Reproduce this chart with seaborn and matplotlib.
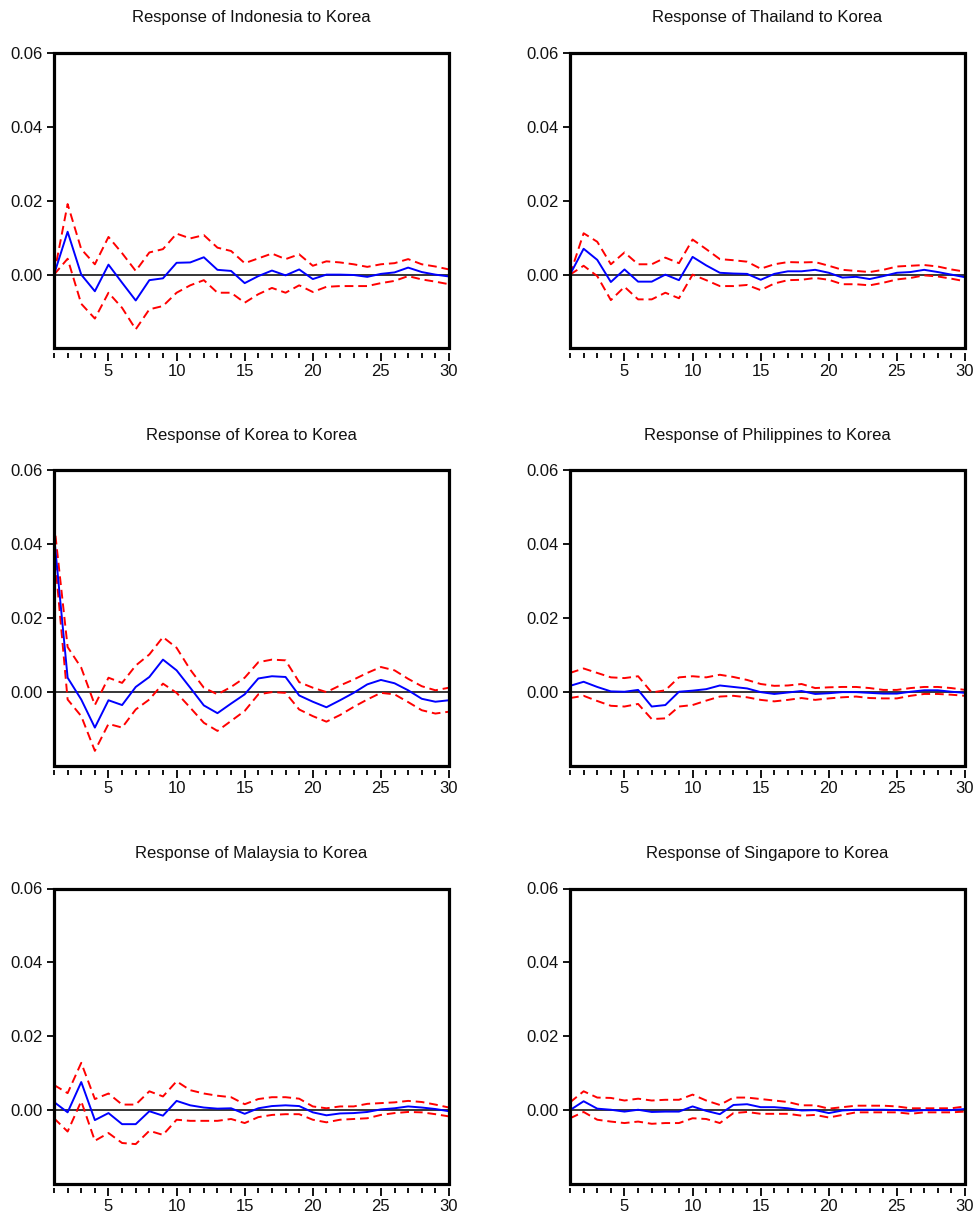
import matplotlib
matplotlib.use("Agg")
import matplotlib.pyplot as plt
from matplotlib.patches import Rectangle
from matplotlib.ticker import MultipleLocator, FixedLocator
import seaborn as sns
import numpy as np

periods = [1, 2, 3, 4, 5, 6, 7, 8, 9, 10, 11, 12, 13, 14, 15,
           16, 17, 18, 19, 20, 21, 22, 23, 24, 25, 26, 27, 28, 29, 30]

titles = ["Response of Indonesia to Korea", "Response of Thailand to Korea",
          "Response of Korea to Korea", "Response of Philippines to Korea",
          "Response of Malaysia to Korea", "Response of Singapore to Korea"]

indonesia_resp = [0.0, 0.0116, 0.0, -0.0045, 0.0027, -0.0022, -0.0070, -0.0015, -0.0010, 0.0032,
                  0.0033, 0.0047, 0.0013, 0.0010, -0.0023, -0.0004, 0.0011, -0.0002, 0.0014, -0.0012,
                  0.0, 0.0, -0.0001, -0.0006, 0.0002, 0.0006, 0.0019, 0.0007, 0.0, -0.0005]
indonesia_up = [0.0, 0.0191, 0.0069, 0.0028, 0.0102, 0.0058, 0.0010, 0.0060, 0.0069, 0.0111,
                0.0098, 0.0107, 0.0073, 0.0064, 0.0031, 0.0044, 0.0057, 0.0042, 0.0055, 0.0024,
                0.0036, 0.0033, 0.0028, 0.0021, 0.0028, 0.0031, 0.0042, 0.0028, 0.0022, 0.0014]
indonesia_lo = [0.0, 0.0043, -0.0079, -0.0119, -0.0049, -0.0090, -0.0148, -0.0094, -0.0085, -0.0049,
                -0.0029, -0.0015, -0.0049, -0.0049, -0.0076, -0.0053, -0.0036, -0.0049, -0.0029, -0.0047,
                -0.0033, -0.0031, -0.0031, -0.0031, -0.0023, -0.0017, -0.0004, -0.0013, -0.0019, -0.0026]

thailand_resp = [0.0, 0.0070, 0.0040, -0.0020, 0.0014, -0.0019, -0.0019, 0.0, -0.0015, 0.0048,
                 0.0025, 0.0005, 0.0003, 0.0002, -0.0014, 0.0002, 0.0009, 0.0009, 0.0013, 0.0005,
                 -0.0008, -0.0006, -0.0012, -0.0004, 0.0005, 0.0007, 0.0013, 0.0007, 0.0, -0.0007]
thailand_up = [0.0, 0.0112, 0.0089, 0.0028, 0.0060, 0.0028, 0.0028, 0.0046, 0.0031, 0.0095,
               0.0069, 0.0042, 0.0039, 0.0035, 0.0016, 0.0028, 0.0034, 0.0033, 0.0034, 0.0024,
               0.0013, 0.0010, 0.0007, 0.0013, 0.0022, 0.0024, 0.0026, 0.0022, 0.0014, 0.0008]
thailand_lo = [0.0, 0.0024, -0.0004, -0.0069, -0.0033, -0.0067, -0.0067, -0.0049, -0.0064, 0.0,
               -0.0015, -0.0031, -0.0031, -0.0028, -0.0042, -0.0024, -0.0015, -0.0014, -0.0009, -0.0014,
               -0.0026, -0.0026, -0.0029, -0.0022, -0.0013, -0.0009, -0.0002, -0.0005, -0.0011, -0.0018]

korea_resp = [0.0425, 0.0039, -0.0020, -0.0096, -0.0022, -0.0035, 0.0014, 0.0041, 0.0088, 0.0059,
              0.0012, -0.0036, -0.0057, -0.0031, -0.0006, 0.0037, 0.0043, 0.0041, -0.0009, -0.0026,
              -0.0041, -0.0022, -0.0002, 0.0021, 0.0033, 0.0024, 0.0005, -0.0018, -0.0026, -0.0022]
korea_up = [0.0460, 0.0122, 0.0066, -0.0035, 0.0039, 0.0025, 0.0072, 0.0102, 0.0149, 0.0120,
            0.0061, 0.0012, -0.0006, 0.0014, 0.0039, 0.0081, 0.0088, 0.0086, 0.0027, 0.0012,
            0.0, 0.0018, 0.0034, 0.0052, 0.0068, 0.0059, 0.0036, 0.0016, 0.0005, 0.0012]
korea_lo = [0.0390, -0.0020, -0.0065, -0.0159, -0.0086, -0.0096, -0.0047, -0.0020, 0.0023, -0.0002,
            -0.0042, -0.0083, -0.0105, -0.0078, -0.0051, -0.0006, 0.0, -0.0002, -0.0047, -0.0065,
            -0.0080, -0.0062, -0.0040, -0.0020, -0.0002, -0.0006, -0.0027, -0.0049, -0.0058, -0.0053]

philippines_resp = [0.0017, 0.0028, 0.0014, 0.0002, 0.0001, 0.0006, -0.0039, -0.0035, 0.0001, 0.0004,
                    0.0008, 0.0018, 0.0014, 0.0010, 0.0, -0.0005, -0.0001, 0.0003, -0.0005, -0.0003,
                    0.0, 0.0, -0.0002, -0.0004, -0.0004, 0.0001, 0.0005, 0.0005, 0.0001, -0.0002]
philippines_up = [0.0052, 0.0064, 0.0052, 0.0040, 0.0038, 0.0043, -0.0001, 0.0005, 0.0040, 0.0043,
                  0.0040, 0.0047, 0.0041, 0.0033, 0.0022, 0.0017, 0.0018, 0.0022, 0.0011, 0.0013,
                  0.0014, 0.0014, 0.0011, 0.0006, 0.0006, 0.0011, 0.0014, 0.0014, 0.0011, 0.0006]
philippines_lo = [-0.0016, -0.0010, -0.0024, -0.0037, -0.0039, -0.0032, -0.0073, -0.0071, -0.0039, -0.0035,
                  -0.0023, -0.0012, -0.0010, -0.0014, -0.0021, -0.0025, -0.0021, -0.0016, -0.0021, -0.0017,
                  -0.0014, -0.0012, -0.0016, -0.0017, -0.0017, -0.0010, -0.0005, -0.0005, -0.0007, -0.0010]

malaysia_resp = [0.0022, -0.0006, 0.0076, -0.0027, -0.0008, -0.0038, -0.0038, -0.0003, -0.0015, 0.0025,
                 0.0013, 0.0007, 0.0004, 0.0005, -0.0010, 0.0005, 0.0011, 0.0013, 0.0011, -0.0006,
                 -0.0014, -0.0009, -0.0008, -0.0005, 0.0002, 0.0005, 0.0010, 0.0007, 0.0003, -0.0003]
malaysia_up = [0.0068, 0.0046, 0.0128, 0.0030, 0.0045, 0.0015, 0.0015, 0.0051, 0.0037, 0.0078,
               0.0054, 0.0045, 0.0039, 0.0035, 0.0016, 0.0030, 0.0035, 0.0035, 0.0031, 0.0010,
               0.0005, 0.0010, 0.0010, 0.0017, 0.0019, 0.0021, 0.0025, 0.0022, 0.0015, 0.0007]
malaysia_lo = [-0.0022, -0.0058, 0.0024, -0.0083, -0.0062, -0.0089, -0.0092, -0.0056, -0.0067, -0.0026,
               -0.0029, -0.0029, -0.0029, -0.0024, -0.0035, -0.0019, -0.0013, -0.0011, -0.0011, -0.0026,
               -0.0033, -0.0026, -0.0024, -0.0022, -0.0013, -0.0008, -0.0005, -0.0006, -0.0011, -0.0017]

singapore_resp = [0.0, 0.0024, 0.0004, 0.0001, -0.0004, 0.0001, -0.0005, -0.0004, -0.0004, 0.0010,
                  -0.0002, -0.0011, 0.0014, 0.0016, 0.0008, 0.0008, 0.0005, -0.0001, 0.0, -0.0008,
                  -0.0001, 0.0001, 0.0001, 0.0001, 0.0, -0.0002, 0.0, 0.0, 0.0, 0.0003]
singapore_up = [0.0021, 0.0051, 0.0034, 0.0033, 0.0026, 0.0031, 0.0026, 0.0028, 0.0028, 0.0042,
                0.0026, 0.0014, 0.0034, 0.0034, 0.0030, 0.0026, 0.0022, 0.0013, 0.0013, 0.0004,
                0.0008, 0.0012, 0.0012, 0.0012, 0.0010, 0.0005, 0.0005, 0.0005, 0.0005, 0.0010]
singapore_lo = [-0.0022, -0.0005, -0.0026, -0.0031, -0.0035, -0.0031, -0.0037, -0.0035, -0.0035, -0.0022,
                -0.0024, -0.0035, -0.0008, -0.0005, -0.0010, -0.0010, -0.0010, -0.0015, -0.0013, -0.0020,
                -0.0013, -0.0006, -0.0006, -0.0006, -0.0006, -0.0010, -0.0006, -0.0006, -0.0006, -0.0004]

responses = [indonesia_resp, thailand_resp, korea_resp, philippines_resp, malaysia_resp, singapore_resp]
uppers = [indonesia_up, thailand_up, korea_up, philippines_up, malaysia_up, singapore_up]
lowers = [indonesia_lo, thailand_lo, korea_lo, philippines_lo, malaysia_lo, singapore_lo]

ytick_vals = [0.00, 0.02, 0.04, 0.06]
ytick_labels = ["0.00", "0.02", "0.04", "0.06"]
xtick_major = [5, 10, 15, 20, 25, 30]

sns.set_style("white")
plt.rcParams['font.family'] = ['Liberation Sans', 'DejaVu Sans']

fig = plt.figure(figsize=(9.76, 12.15), dpi=100)
W, H = 976.0, 1215.0
col_left = [54, 570]
row_top = [53, 470.5, 888.5]
ax_w, ax_h = 395, 295.5

for i in range(6):
    r, c = divmod(i, 2)
    left = col_left[c] / W
    bottom = 1 - (row_top[r] + ax_h) / H
    ax = fig.add_axes([left, bottom, ax_w / W, ax_h / H])

    ax.axhline(0, color="black", lw=1.1, zorder=1)
    sns.lineplot(x=periods, y=uppers[i], ax=ax, color="#ff0000", lw=1.4,
                 linestyle=(0, (4.5, 2.5)), zorder=2)
    sns.lineplot(x=periods, y=lowers[i], ax=ax, color="#ff0000", lw=1.4,
                 linestyle=(0, (4.5, 2.5)), zorder=2)
    sns.lineplot(x=periods, y=responses[i], ax=ax, color="#0000ff", lw=1.4, zorder=3)

    ax.set_xlim(1, 30)
    ax.set_ylim(-0.02, 0.06)
    ax.set_yticks(ytick_vals)
    ax.set_yticklabels(ytick_labels)
    ax.xaxis.set_major_locator(FixedLocator(xtick_major))
    ax.xaxis.set_minor_locator(MultipleLocator(1))
    ax.set_xticklabels([str(v) for v in xtick_major])

    for s in ["left", "right", "top"]:
        ax.spines[s].set_visible(False)
    ax.spines["bottom"].set_position(("outward", 3))
    ax.spines["bottom"].set_visible(False)
    ax.add_patch(Rectangle((0, 0), 1, 1, transform=ax.transAxes, fill=False,
                           edgecolor="black", lw=2.3, clip_on=False, zorder=5))

    ax.tick_params(axis="y", which="major", direction="out", length=5, width=1.3,
                   labelsize=12, pad=3, left=True, color="black", labelcolor="#111111")
    ax.tick_params(axis="x", which="major", direction="out", length=6, width=1.3,
                   labelsize=12, pad=2, bottom=True, color="black", labelcolor="#111111")
    ax.tick_params(axis="x", which="minor", direction="out", length=3.5, width=1.3,
                   bottom=True, color="black")
    ax.set_xlabel("")
    ax.set_ylabel("")
    ax.set_title(titles[i], fontsize=12, pad=22, color="#111111")

fig.savefig("out.png", dpi=100)
